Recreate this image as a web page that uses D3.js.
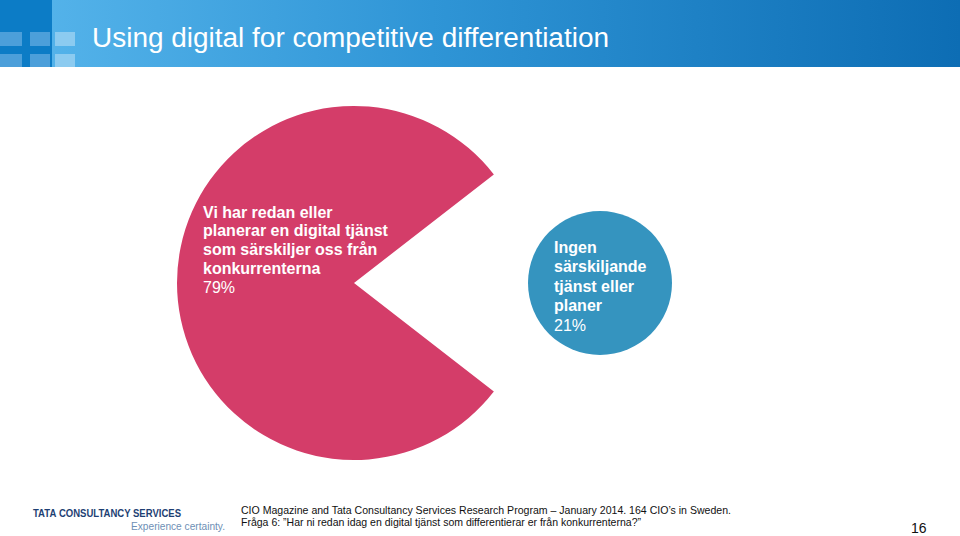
<!DOCTYPE html>
<html><head><meta charset="utf-8">
<script src="https://cdn.jsdelivr.net/npm/d3@7"></script>
<style>body{margin:0;background:#fff}svg{display:block}</style>
</head><body>
<svg id="c" width="960" height="536"></svg>
<script>
const title = "Using digital for competitive differentiation";
const categories = ["Vi har redan eller planerar en digital tjänst som särskiljer oss från konkurrenterna", "Ingen särskiljande tjänst eller planer"];
const values = [79, 21];
const labelLines = [
  ["Vi har redan eller", "planerar en digital tjänst", "som särskiljer oss från", "konkurrenterna"],
  ["Ingen", "särskiljande", "tjänst eller", "planer"]
];
const colors = ["#d43d69", "#3594bf"];
const sourceLines = [
  "CIO Magazine and Tata Consultancy Services Research Program – January 2014. 164 CIO’s in Sweden.",
  "Fråga 6: \u201DHar ni redan idag en digital tjänst som differentierar er från konkurrenterna?\u201D"
];
const pageNumber = "16";

const svg = d3.select("#c");
const font = "'Liberation Sans', Arial, sans-serif";

// Header
const defs = svg.append("defs");
const g1 = defs.append("linearGradient").attr("id","hg").attr("x1","0").attr("x2","1").attr("y1","0").attr("y2","0");
g1.append("stop").attr("offset","0").attr("stop-color","#58b6ec");
g1.append("stop").attr("offset","0.45").attr("stop-color","#2f95d6");
g1.append("stop").attr("offset","1").attr("stop-color","#0d6db4");
svg.append("rect").attr("x",0).attr("y",0).attr("width",960).attr("height",67).attr("fill","url(#hg)");
svg.append("rect").attr("x",0).attr("y",0).attr("width",52).attr("height",67).attr("fill","#0c7cc6");
const sq = [[0,32,22,14,"#4c9fda"],[30,32,20,14,"#4c9fda"],[55,32,20,14,"#8ccbf0"],
            [0,54,22,13,"#4c9fda"],[30,54,20,13,"#4c9fda"],[55,54,20,13,"#8ccbf0"]];
sq.forEach(s=>svg.append("rect").attr("x",s[0]).attr("y",s[1]).attr("width",s[2]).attr("height",s[3]).attr("fill",s[4]));
svg.append("text").attr("x",92).attr("y",47).attr("fill","#fff")
  .attr("font-family",font).attr("font-size",27)
  .attr("textLength",517).attr("lengthAdjust","spacingAndGlyphs").text(title);

// Pie
const total = d3.sum(values);
const cx = 354, cy = 283, R = 177;
const start = Math.PI/2 + Math.PI*values[1]/total;
const pie = d3.pie().sort(null).startAngle(start).endAngle(start + 2*Math.PI);
const arcs = pie(values);
const arc = d3.arc().innerRadius(0).outerRadius(R);
svg.append("path").attr("transform",`translate(${cx},${cy})`).attr("d",arc(arcs[0])).attr("fill",colors[0]);

// Small slice drawn as separate circle, placed along its mid-angle
const mid = (arcs[1].startAngle + arcs[1].endAngle)/2;
const dist = 246, r2 = 72;
const bx = cx + dist*Math.sin(mid), by = cy - dist*Math.cos(mid);
svg.append("circle").attr("cx",bx).attr("cy",by).attr("r",r2).attr("fill",colors[1]);

// Labels
function label(lines, value, x, y0, lh){
  const t = svg.append("g").attr("font-family",font).attr("font-size",16).attr("fill","#fff");
  lines.forEach((l,i)=>t.append("text").attr("x",x).attr("y",y0+i*lh).attr("font-weight","bold").text(l));
  t.append("text").attr("x",x).attr("y",y0+lines.length*lh).text(value+"%");
}
label(labelLines[0], values[0], 203, 217.5, 18.75);
label(labelLines[1], values[1], 554, 252.5, 19.6);

// Footer
svg.append("text").attr("x",33).attr("y",517).attr("font-family",font).attr("font-size",10.5)
  .attr("fill","#1e3f73").attr("font-weight","bold")
  .attr("textLength",148).attr("lengthAdjust","spacingAndGlyphs")
  .html("<tspan font-weight='900'>TATA</tspan> CONSULTANCY SERVICES");
svg.append("text").attr("x",131).attr("y",530).attr("font-family",font).attr("font-size",11.5)
  .attr("fill","#6e8fb5").attr("textLength",94).attr("lengthAdjust","spacingAndGlyphs").text("Experience certainty.");
svg.append("text").attr("x",241).attr("y",514).attr("font-family",font).attr("font-size",11.5)
  .attr("fill","#111").attr("textLength",490).attr("lengthAdjust","spacingAndGlyphs").text(sourceLines[0]);
svg.append("text").attr("x",241).attr("y",526).attr("font-family",font).attr("font-size",11.5)
  .attr("fill","#111").attr("textLength",400).attr("lengthAdjust","spacingAndGlyphs").text(sourceLines[1]);
svg.append("text").attr("x",911).attr("y",533).attr("font-family",font).attr("font-size",14)
  .attr("fill","#111").text(pageNumber);
</script>
</body></html>
